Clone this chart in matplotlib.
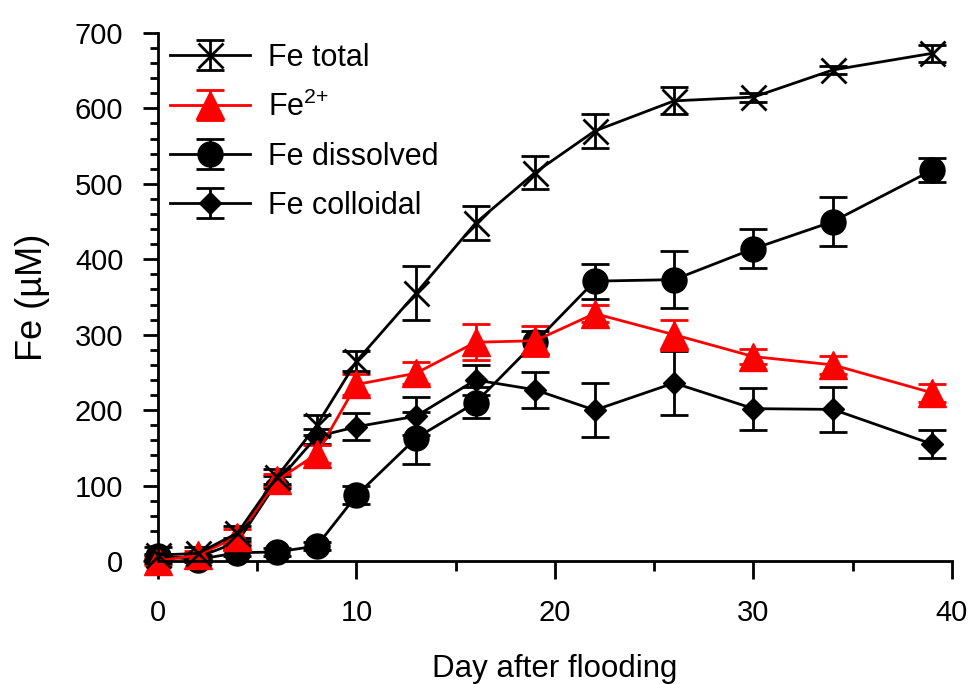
import matplotlib
matplotlib.use("Agg")
import matplotlib.pyplot as plt
from matplotlib.ticker import MultipleLocator

plt.rcParams['font.family'] = ['Liberation Sans', 'DejaVu Sans']
plt.rcParams['mathtext.default'] = 'regular'

# days after flooding
days = [0, 2, 4, 6, 8, 10, 13, 16, 19, 22, 26, 30, 34, 39]

# Fe concentrations (uM) and error bars
fe_total = [8, 10, 37, 112, 180, 265, 355, 448, 515, 570, 610, 615, 651, 673]
fe_total_err = [10, 8, 10, 10, 13, 13, 36, 23, 22, 23, 18, 6, 5, 11]

fe2 = [0, 8, 32, 107, 142, 234, 249, 290, 292, 328, 300, 271, 260, 223]
fe2_err = [5, 5, 10, 8, 12, 14, 15, 24, 20, 11, 20, 10, 12, 12]

fe_dissolved = [6, 2, 11, 12, 20, 87, 163, 210, 290, 371, 373, 414, 450, 518]
fe_dissolved_err = [3, 3, 5, 5, 5, 12, 35, 21, 15, 23, 38, 26, 32, 16]

fe_colloidal = [5, 5, 25, 105, 165, 178, 192, 240, 227, 200, 236, 202, 201, 155]
fe_colloidal_err = [3, 3, 5, 8, 10, 18, 25, 20, 24, 36, 42, 28, 30, 19]

fig = plt.figure(figsize=(9.7, 6.84), dpi=100)
ax = fig.add_axes([0.1629, 0.1798, 0.8185, 0.772])

kw = dict(capsize=10, elinewidth=2, capthick=2, linewidth=2, clip_on=False)

h_col = ax.errorbar(days, fe_colloidal, yerr=fe_colloidal_err, color='black',
                    marker='D', markersize=11, label='Fe colloidal', **kw)
h_dis = ax.errorbar(days, fe_dissolved, yerr=fe_dissolved_err, color='black',
                    marker='o', markersize=18, label='Fe dissolved', **kw)
h_fe2 = ax.errorbar(days, fe2, yerr=fe2_err, color='red',
                    marker='^', markersize=20, label='Fe$^{2{+}}$', **kw)
h_tot = ax.errorbar(days, fe_total, yerr=fe_total_err, color='black',
                    marker='x', markersize=18, markeredgewidth=2,
                    label='Fe total', **kw)
for h in (h_col, h_dis, h_fe2, h_tot):
    for a in h.lines[1] + h.lines[2]:
        a.set_clip_on(False)

ax.set_xlim(0, 40)
ax.set_ylim(0, 700)
ax.xaxis.set_major_locator(MultipleLocator(10))
ax.xaxis.set_minor_locator(MultipleLocator(5))
ax.yaxis.set_major_locator(MultipleLocator(100))
ax.yaxis.set_minor_locator(MultipleLocator(20))

ax.spines['top'].set_visible(False)
ax.spines['right'].set_visible(False)
ax.spines['left'].set_linewidth(2)
ax.spines['bottom'].set_linewidth(2)

ax.tick_params(axis='x', which='major', length=13, width=2, labelsize=21, pad=14)
ax.tick_params(axis='x', which='minor', length=7, width=2)
ax.tick_params(axis='y', which='major', length=11, width=2, labelsize=21, pad=14)
ax.tick_params(axis='y', which='minor', length=6, width=2)

ax.set_xlabel('Day after flooding', fontsize=22.5, labelpad=20)
ax.set_ylabel('Fe (µM)', fontsize=26, labelpad=18)

leg = ax.legend([h_tot, h_fe2, h_dis, h_col],
                ['Fe total', 'Fe$^{2{+}}$', 'Fe dissolved', 'Fe colloidal'],
                loc='upper left', bbox_to_anchor=(0.0, 1.005), frameon=False,
                fontsize=22, handlelength=2.6, labelspacing=0.62,
                handletextpad=0.6, borderaxespad=0.0)

fig.savefig('out.png', dpi=100)
